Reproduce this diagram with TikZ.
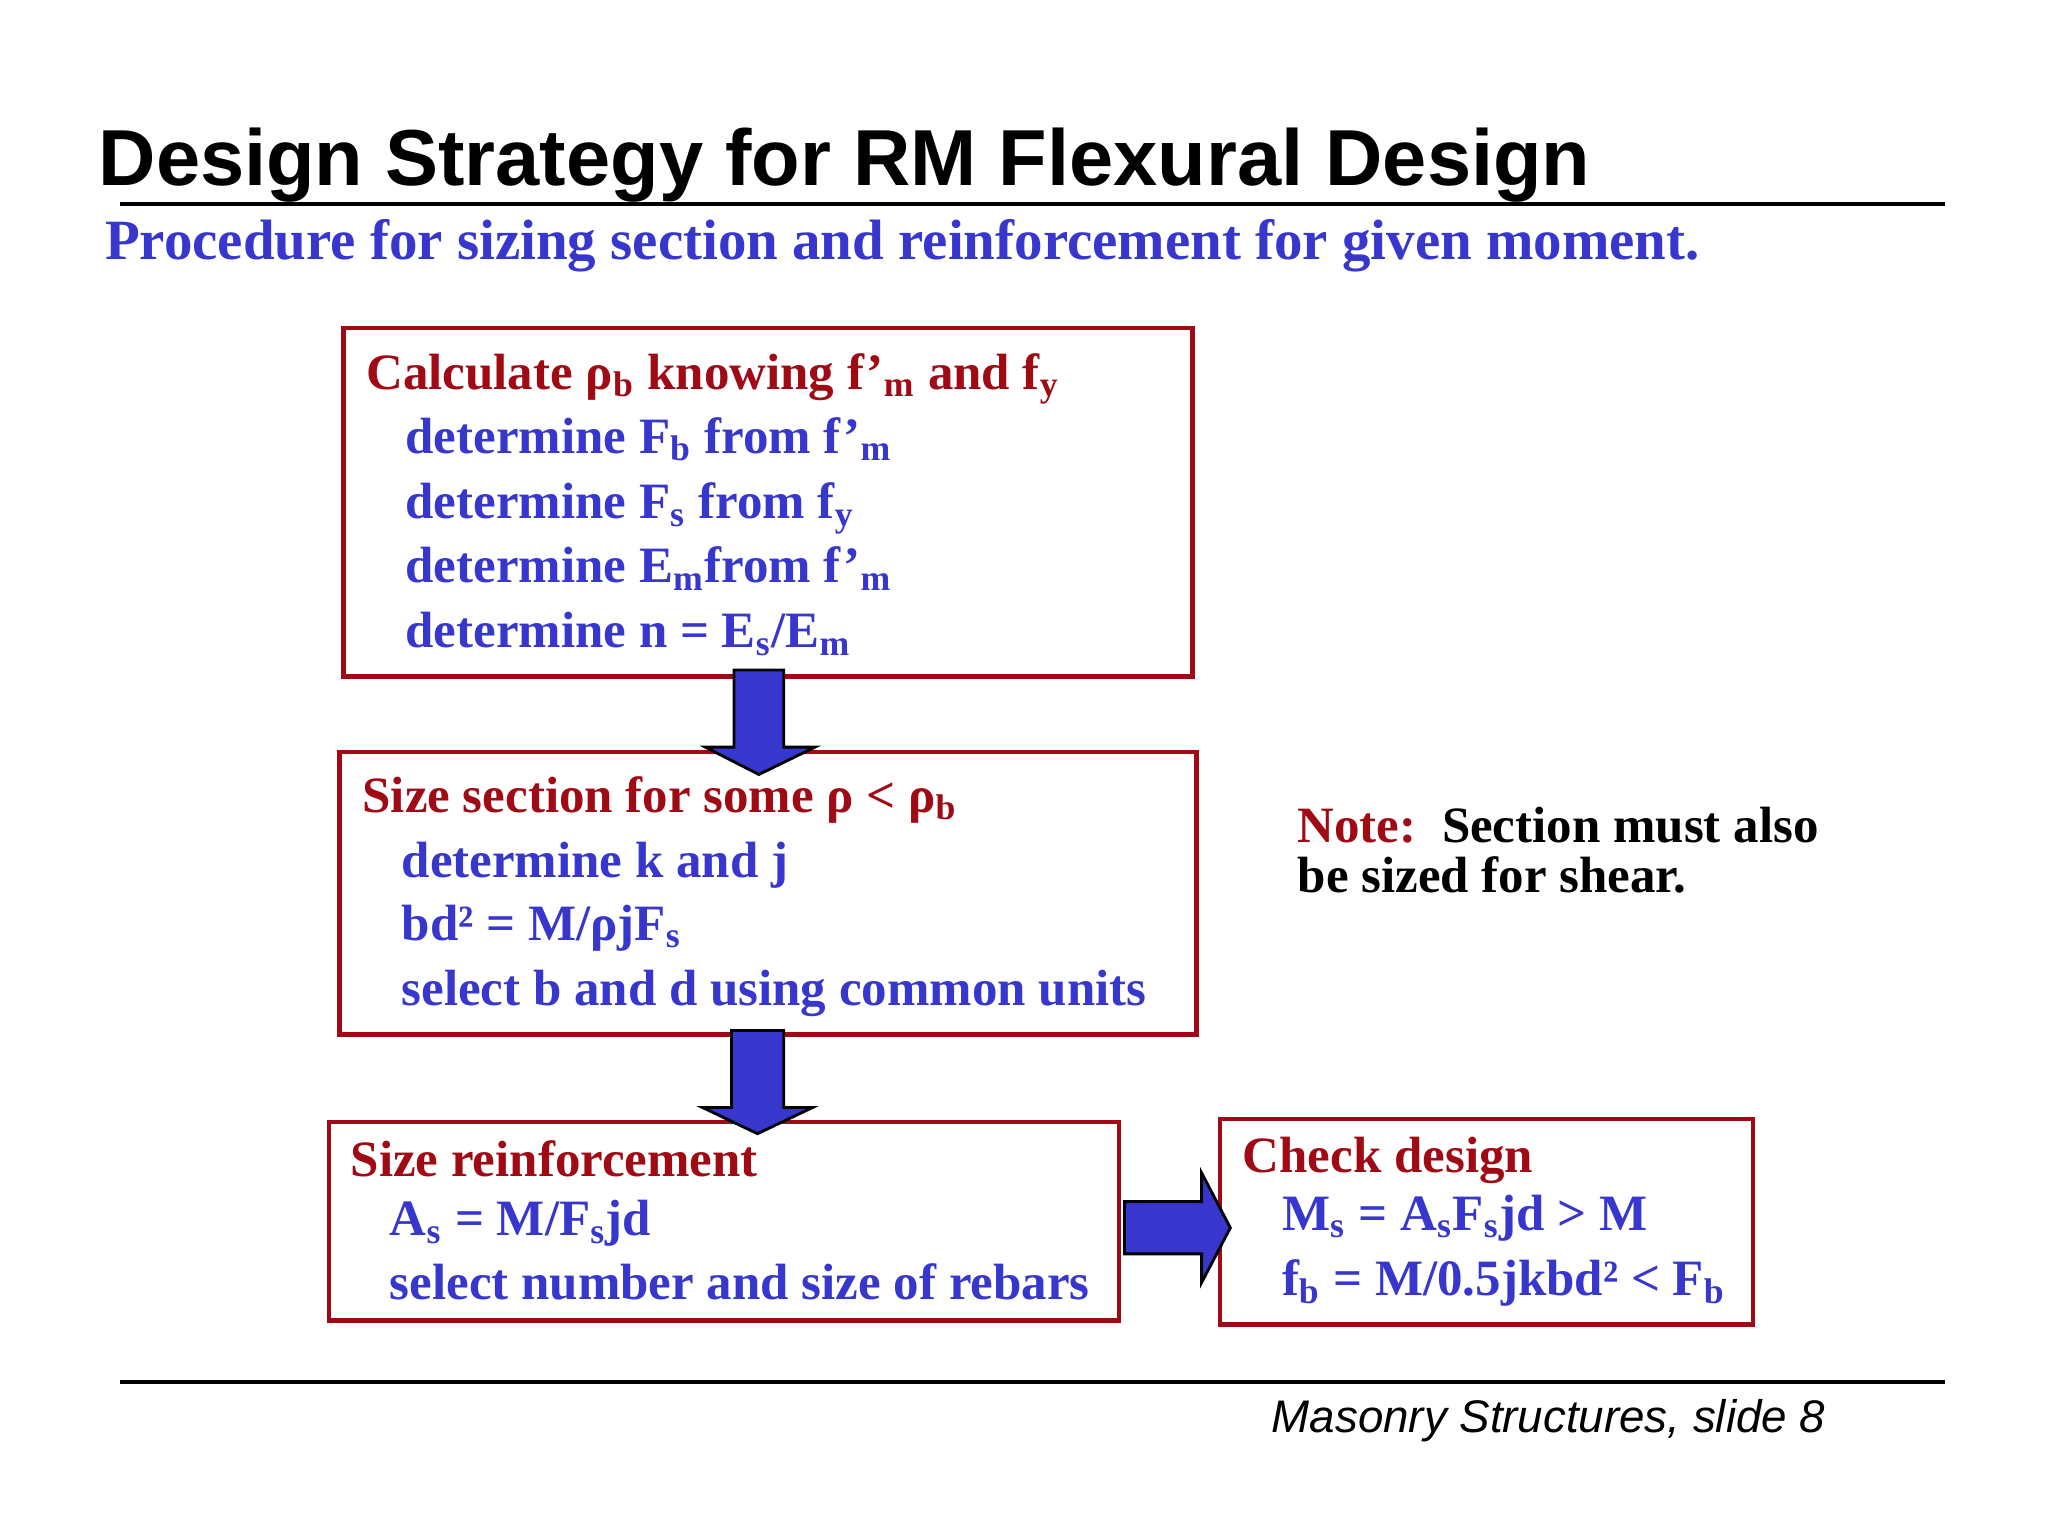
\documentclass[tikz,border=0pt]{standalone}
\usepackage{fontspec}
\setmainfont{Liberation Serif}
\newfontfamily\sansf{Liberation Sans}
\begin{document}
\definecolor{dred}{RGB}{160,10,20}
\definecolor{dblue}{RGB}{55,55,205}
\begin{tikzpicture}[x=0.013061cm,y=-0.013061cm,
  box/.style={draw=dred,line width=1.2pt},
  t/.style={anchor=base west,inner sep=0,font=\bfseries\fontsize{14.5}{17}\selectfont},
  hd/.style={t,text=dred},
  bl/.style={t,text=dblue},
  arr/.style={draw=black,fill=dblue,line width=0.8pt,line join=miter}]
\useasboundingbox (0,0) rectangle (1568,1176);
\node[anchor=base west,inner sep=0,font=\sansf\bfseries\fontsize{22.6}{26}\selectfont] (title) at (75,142) {Design Strategy for RM Flexural Design};
\draw[line width=1.2pt] (92,156) -- (1489,156);
\node[anchor=base west,inner sep=0,text=dblue,font=\bfseries\fontsize{16.2}{19}\selectfont] (sub) at (80,199) {Procedure for sizing section and reinforcement for given moment.};
% box 1
\draw[box] (263,251) rectangle (913,518);
\node[hd] at (280,298) {Calculate ρ\textsubscript{b} knowing f’\textsubscript{m} and f\textsubscript{y}};
\node[bl] at (310,347) {determine F\textsubscript{b} from f’\textsubscript{m}};
\node[bl] at (310,397) {determine F\textsubscript{s} from f\textsubscript{y}};
\node[bl] at (310,446) {determine E\textsubscript{m}from f’\textsubscript{m}};
\node[bl] at (310,496) {determine n = E\textsubscript{s}/E\textsubscript{m}};
% box 2
\draw[box] (260,576) rectangle (916,792);
\node[hd] at (277,622) {Size section for some ρ < ρ\textsubscript{b}};
\node[bl] at (307,672) {determine k and j};
\node[bl] at (307,720) {bd² = M/ρjF\textsubscript{s}};
\node[bl] at (307,770) {select b and d using common units};
% box 3
\draw[box] (252,859) rectangle (857,1011);
\node[hd] at (268,901) {Size reinforcement};
\node[bl] at (298,946) {A\textsubscript{s} = M/F\textsubscript{s}jd};
\node[bl] at (298,995) {select number and size of rebars};
% box 4
\draw[box] (934,857) rectangle (1342,1014);
\node[hd] at (951,898) {Check design};
\node[bl] at (981,942) {M\textsubscript{s} = A\textsubscript{s}F\textsubscript{s}jd > M};
\node[bl] at (981,992) {f\textsubscript{b} = M/0.5jkbd² < F\textsubscript{b}};
% note
\node[t] at (993,645) {\textcolor{dred}{Note:}\ \ Section must also};
\node[t] at (993,683) {be sized for shear.};
% arrows
\draw[arr] (562,513) -- (600,513) -- (600,572) -- (624,572) -- (581,593) -- (540,572) -- (562,572) -- cycle;
\draw[arr] (560,789) -- (600,789) -- (600,848) -- (622,848) -- (580,868) -- (538,848) -- (560,848) -- cycle;
\draw[arr] (861,920) -- (920,920) -- (920,898) -- (942,940) -- (920,982) -- (920,960) -- (861,960) -- cycle;
\draw[line width=1.2pt] (92,1058) -- (1489,1058);
\node[anchor=base east,inner sep=0,font=\sansf\itshape\fontsize{13}{15}\selectfont] (foot) at (1398,1097) {Masonry Structures, slide 8};
\end{tikzpicture}
\end{document}
